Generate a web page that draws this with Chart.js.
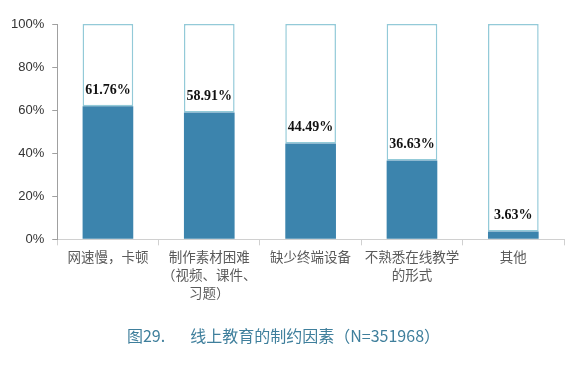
<!DOCTYPE html>
<html><head><meta charset="utf-8">
<script src="https://cdn.jsdelivr.net/npm/chart.js@4/dist/chart.umd.min.js"></script>
<style>html,body{margin:0;padding:0;background:#fff;}#wrap{width:567px;height:368px;position:relative;}</style>
</head><body><div id="wrap"><canvas id="c" width="567" height="368"></canvas></div>
<script>
const categories = [["网速慢，卡顿"], ["制作素材困难", "（视频、课件、", "习题）"], ["缺少终端设备"], ["不熟悉在线教学", "的形式"], ["其他"]];
const values = [61.76, 58.91, 44.49, 36.63, 3.63];
const remainder = values.map(v => 100 - v);
const yTicks = [0, 20, 40, 60, 80, 100];
const caption = "图29.       线上教育的制约因素（N=351968）";

const labelPlugin = {
  id: 'valLabels',
  afterDatasetsDraw(chart) {
    const ctx = chart.ctx;
    const meta = chart.getDatasetMeta(0);
    ctx.save();
    ctx.font = 'bold 14px "Liberation Serif", "Times New Roman", serif';
    ctx.fillStyle = '#111';
    ctx.textAlign = 'center';
    ctx.textBaseline = 'middle';
    meta.data.forEach((bar, i) => {
      ctx.fillText(values[i].toFixed(2) + '%', bar.x, bar.y - 16);
    });
    ctx.restore();
  }
};

new Chart(document.getElementById('c'), {
  type: 'bar',
  data: {
    labels: categories,
    datasets: [
      { data: values, backgroundColor: '#3c84ad', borderWidth: 0, categoryPercentage: 1, barPercentage: 0.5 },
      { data: remainder, backgroundColor: '#ffffff', borderColor: '#93cad8', borderWidth: 1.5, borderSkipped: false, categoryPercentage: 1, barPercentage: 0.5 }
    ]
  },
  options: {
    responsive: false,
    animation: false,
    layout: { padding: { left: 3, right: 3, top: 24, bottom: 22 } },
    plugins: {
      legend: { display: false },
      tooltip: { enabled: false },
      title: {
        display: true, position: 'bottom', text: caption,
        color: '#3f7f9c', font: { family: '"Noto Sans CJK SC", sans-serif', size: 16, weight: 'normal', lineHeight: 1.2 },
        padding: { top: 22, bottom: 0 }
      }
    },
    scales: {
      x: {
        stacked: true,
        offset: true,
        grid: { display: true, offset: true, drawOnChartArea: false, drawTicks: true, tickLength: 6, color: '#d0d0d0' },
        border: { color: '#d0d0d0' },
        ticks: { color: '#5a5a5a', font: { family: '"Noto Sans CJK SC", sans-serif', size: 13.5, lineHeight: 1.32 }, maxRotation: 0, autoSkip: false, padding: 3 }
      },
      y: {
        stacked: true,
        min: 0, max: 100,
        afterBuildTicks(axis) { axis.ticks = yTicks.map(v => ({ value: v })); },
        grid: { display: true, drawOnChartArea: false, drawTicks: true, tickLength: 5, color: '#a0a0a0' },
        border: { color: '#a0a0a0' },
        ticks: { color: '#333', font: { family: '"Liberation Sans", Arial, sans-serif', size: 13 }, padding: 8, callback: v => v + '%' }
      }
    }
  },
  plugins: [labelPlugin]
});
</script></body></html>
